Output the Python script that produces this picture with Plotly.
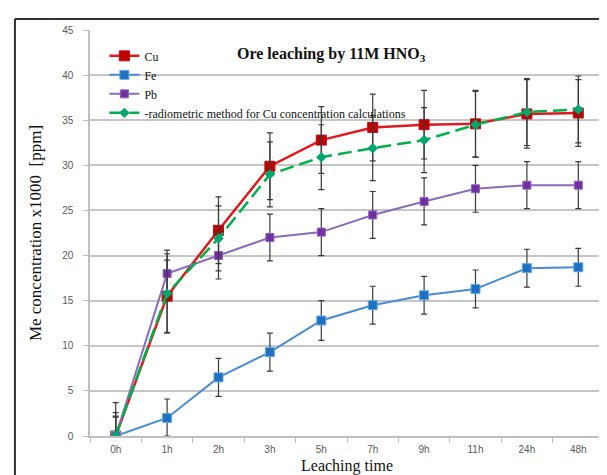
import plotly.graph_objects as go

categories = ["0h", "1h", "2h", "3h", "5h", "7h", "9h", "11h", "24h", "48h"]

cu = [0, 15.5, 22.8, 29.9, 32.8, 34.2, 34.5, 34.6, 35.7, 35.8]
fe = [0, 2.0, 6.5, 9.3, 12.8, 14.5, 15.6, 16.3, 18.6, 18.7]
pb = [0, 18.0, 20.0, 22.0, 22.6, 24.5, 26.0, 27.4, 27.8, 27.8]
radiometric = [0, 15.8, 21.9, 29.0, 30.9, 31.9, 32.8, 34.5, 35.9, 36.2]

cu_err = [3.7, 4.0, 3.7, 3.7, 3.7, 3.7, 3.8, 3.7, 3.8, 3.7]
cu_err_minus = [0, 4.0, 3.7, 3.7, 3.7, 3.7, 3.8, 3.7, 3.8, 3.7]
fe_err = [2.1, 2.1, 2.1, 2.1, 2.2, 2.1, 2.1, 2.1, 2.1, 2.1]
fe_err_minus = [0, 2.0, 2.1, 2.1, 2.2, 2.1, 2.1, 2.1, 2.1, 2.1]
pb_err = [2.6, 2.6, 2.6, 2.6, 2.6, 2.6, 2.6, 2.6, 2.6, 2.6]
pb_err_minus = [0, 2.6, 2.6, 2.6, 2.6, 2.6, 2.6, 2.6, 2.6, 2.6]
rad_err = [2.2, 4.4, 3.6, 3.6, 3.6, 3.6, 3.6, 3.7, 3.7, 3.7]
rad_err_minus = [0, 4.4, 3.6, 3.6, 3.6, 3.6, 3.6, 3.6, 3.7, 3.7]

y_ticks = [0, 5, 10, 15, 20, 25, 30, 35, 40, 45]

title_text = "<b>Ore leaching by 11M HNO<sub>3</sub></b>"
x_title = "Leaching time"
y_title = "Me concentration x1000  [ppm]"

SERIF = "Liberation Serif, Times New Roman, serif"
SANS = "Liberation Sans, Arial, sans-serif"
ERR_COLOR = "#3a3a3a"


def err(plus, minus):
    return dict(type="data", symmetric=False, array=plus, arrayminus=minus,
                color=ERR_COLOR, thickness=1.2, width=3)


fig = go.Figure()

fig.add_trace(go.Scatter(
    x=categories, y=cu, name="Cu", mode="lines+markers",
    line=dict(color="#E0191E", width=2.5),
    marker=dict(symbol="square", size=10, color="#C00000",
                line=dict(color="#B0101A", width=1)),
    error_y=err(cu_err, cu_err_minus),
))
fig.add_trace(go.Scatter(
    x=categories, y=fe, name="Fe", mode="lines+markers",
    line=dict(color="#4A8BD2", width=2),
    marker=dict(symbol="square", size=9, color="#1F70BF",
                line=dict(color="#5FA8E8", width=1)),
    error_y=err(fe_err, fe_err_minus),
))
fig.add_trace(go.Scatter(
    x=categories, y=pb, name="Pb", mode="lines+markers",
    line=dict(color="#8A6CB8", width=2),
    marker=dict(symbol="square", size=8, color="#7030A0",
                line=dict(color="#8E63C0", width=1)),
    error_y=err(pb_err, pb_err_minus),
))
fig.add_trace(go.Scatter(
    x=categories, y=radiometric,
    name="-radiometric method for Cu concentration calculations",
    mode="lines+markers",
    line=dict(color="#00B04A", width=2.5, dash="14px,6px"),
    marker=dict(symbol="diamond", size=8, color="#00A870"),
    error_y=err(rad_err, rad_err_minus),
))

fig.update_layout(
    width=607, height=475,
    margin=dict(l=82, r=11, t=22, b=47),
    paper_bgcolor="white", plot_bgcolor="white",
    showlegend=True,
    legend=dict(
        x=0.028, y=0.972, xanchor="left", yanchor="top",
        bgcolor="rgba(0,0,0,0)", borderwidth=0,
        font=dict(family=SERIF, size=12, color="#111111"),
        tracegroupgap=0, itemwidth=30,
    ),
    annotations=[
        dict(text=title_text, xref="paper", yref="paper",
             x=0.47, y=0.94, xanchor="center", yanchor="middle",
             showarrow=False, font=dict(family=SERIF, size=16, color="#111111")),
    ],
    shapes=[
        dict(type="line", xref="paper", yref="paper",
             x0=-0.146, x1=-0.146, y0=1.027, y1=-0.2,
             line=dict(color="#333333", width=2)),
        dict(type="line", xref="paper", yref="paper",
             x0=-0.146, x1=1.1, y0=1.027, y1=1.027,
             line=dict(color="#333333", width=2)),
    ],
)

fig.update_xaxes(
    type="category", categoryorder="array", categoryarray=categories,
    range=[-0.5, 9.5],
    showgrid=False, showline=True, linecolor="#BFBFBF", linewidth=1.5,
    ticks="outside", tickson="boundaries", ticklen=5, tickcolor="#BFBFBF",
    ticklabelstandoff=3,
    tickfont=dict(family=SANS, size=10, color="#595959"),
    title=dict(text=x_title, font=dict(family=SERIF, size=16, color="#111111"),
               standoff=6),
)
fig.update_yaxes(
    range=[0, 45], tickvals=y_ticks,
    showgrid=True, gridcolor="#C6C6C6", gridwidth=1.5,
    showline=True, linecolor="#BFBFBF", linewidth=1.5,
    ticks="outside", ticklen=5, tickcolor="#BFBFBF",
    ticklabelstandoff=8,
    tickfont=dict(family=SANS, size=10, color="#595959"),
    zeroline=False,
    title=dict(text=y_title, font=dict(family=SERIF, size=17, color="#111111"),
               standoff=16),
)

fig.write_html("out.html")
